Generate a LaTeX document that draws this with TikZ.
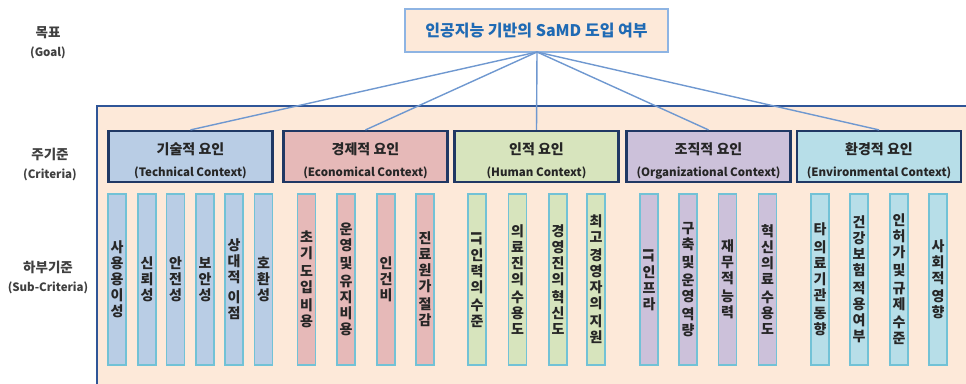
\documentclass[tikz,border=0pt]{standalone}
\usepackage{fontspec}
\setmainfont{Noto Sans CJK KR}
\definecolor{peach}{HTML}{FDE9D9}
\definecolor{goalline}{HTML}{8EB4E3}
\definecolor{goaltext}{HTML}{1F6AB4}
\definecolor{frameblue}{HTML}{2F5597}
\definecolor{critborder}{HTML}{203864}
\definecolor{conn}{HTML}{6F98D0}
\definecolor{barborder}{HTML}{72C2D6}
\definecolor{techfill}{HTML}{B9CDE5}
\definecolor{econfill}{HTML}{E6B9B8}
\definecolor{humanfill}{HTML}{D7E4BD}
\definecolor{orgfill}{HTML}{CCC1DA}
\definecolor{envfill}{HTML}{B7DEE8}
\definecolor{labeltext}{HTML}{404040}
\definecolor{boxtext}{HTML}{262626}
\newcommand{\rit}{\rotatebox{-90}{IT}}
\newcommand{\eng}[1]{{\fontsize{11.5}{13}\selectfont #1}}
\begin{document}
\begin{tikzpicture}[x=1pt,y=-1pt,
  goalbox/.style={draw=goalline,line width=1.6pt,fill=peach,minimum width=263pt,minimum height=43pt,inner sep=0pt,
    text=goaltext,font=\bfseries\fontsize{16}{18}\selectfont},
  critbox/.style={draw=critborder,line width=2.2pt,minimum width=164pt,minimum height=51pt,inner sep=0pt},
  crittext/.style={align=center,text=boxtext,font=\bfseries\fontsize{14}{22}\selectfont,yshift=-4pt},
  subbar/.style={draw=barborder,line width=1.4pt,minimum width=18pt,minimum height=171pt,inner sep=0pt,
    align=center,text=boxtext,font=\bfseries\fontsize{14}{16}\selectfont},
  sidelabel/.style={align=center,text=labeltext,font=\bfseries\fontsize{13.5}{21}\selectfont},
  connector/.style={draw=conn,line width=1.4pt}]
\clip (0,0) rectangle (966,383);
\fill[white] (0,0) rectangle (966,383);
% frame
\draw[frameblue,line width=2pt,fill=peach] (97,106) rectangle (990,420);
% side labels
\node[sidelabel] (lgoal) at (48,43) {목표\\[-2pt]\eng{(Goal)}};
\node[sidelabel] (lcrit) at (50,164) {주기준\\[-2pt]\eng{(Criteria)}};
\node[sidelabel] (lsub) at (48,277) {하부기준\\[-2pt]\eng{(Sub-Criteria)}};
% goal
\node[goalbox] (goal) at (536.5,30.5) {인공지능 기반의 SaMD 도입 여부};
\coordinate (hub) at (537,52);
% criteria
\node[critbox,fill=techfill,label={[crittext]center:기술적 요인\\\eng{(Technical Context)}}] (tech) at (190.5,156.5) {};
\node[critbox,fill=econfill,label={[crittext]center:경제적 요인\\\eng{(Economical Context)}}] (econ) at (365.5,156.5) {};
\node[critbox,fill=humanfill,label={[crittext]center:인적 요인\\\eng{(Human Context)}}] (human) at (536.5,156.5) {};
\node[critbox,fill=orgfill,label={[crittext]center:조직적 요인\\\eng{(Organizational Context)}}] (org) at (708.5,156.5) {};
\node[critbox,fill=envfill,label={[crittext]center:환경적 요인\\\eng{(Environmental Context)}}] (env) at (879,156.5) {};
\foreach \n in {tech,econ,human,org,env}{\draw[connector] (hub) -- (\n.north);}
% technical
\node[subbar,fill=techfill] (t1) at (117,279.5) {사\\용\\용\\이\\성};
\node[subbar,fill=techfill] (t2) at (147,279.5) {신\\뢰\\성};
\node[subbar,fill=techfill] (t3) at (175.5,279.5) {안\\전\\성};
\node[subbar,fill=techfill] (t4) at (205,279.5) {보\\안\\성};
\node[subbar,fill=techfill] (t5) at (234,279.5) {상\\대\\적\\[4pt]이\\점};
\node[subbar,fill=techfill] (t6) at (263.5,279.5) {호\\환\\성};
% economical
\node[subbar,fill=econfill] (e1) at (306.5,279.5) {초\\기\\[2pt]도\\입\\[2pt]비\\용};
\node[subbar,fill=econfill] (e2) at (346,279.5) {운\\영\\[2pt]및\\[2pt]유\\지\\비\\용};
\node[subbar,fill=econfill] (e3) at (386,279.5) {인\\건\\비};
\node[subbar,fill=econfill] (e4) at (425,279.5) {진\\료\\원\\가\\[2pt]절\\감};
% human
\node[subbar,fill=humanfill] (h1) at (477,279.5) {\rit\\[2pt]인\\력\\의\\[2pt]수\\준};
\node[subbar,fill=humanfill] (h2) at (517.5,279.5) {의\\료\\진\\의\\[2pt]수\\용\\도};
\node[subbar,fill=humanfill] (h3) at (558,279.5) {경\\영\\진\\의\\[2pt]혁\\신\\도};
\node[subbar,fill=humanfill] (h4) at (596,279.5) {최\\고\\[2pt]경\\영\\자\\의\\[2pt]지\\원};
% organizational
\node[subbar,fill=orgfill] (o1) at (649,279.5) {\rit\\[2pt]인\\프\\라};
\node[subbar,fill=orgfill] (o2) at (688,279.5) {구\\축\\[2pt]및\\[2pt]운\\영\\[2pt]역\\량};
\node[subbar,fill=orgfill] (o3) at (727.5,279.5) {재\\무\\적\\[2pt]능\\력};
\node[subbar,fill=orgfill] (o4) at (767.5,279.5) {혁\\신\\의\\료\\[2pt]수\\용\\도};
% environmental
\node[subbar,fill=envfill] (v1) at (820,279.5) {타\\[2pt]의\\료\\기\\관\\[2pt]동\\향};
\node[subbar,fill=envfill] (v2) at (859,279.5) {건\\강\\보\\험\\[2pt]적\\용\\여\\부};
\node[subbar,fill=envfill] (v3) at (899,279.5) {인\\허\\가\\[2pt]및\\[2pt]규\\제\\[2pt]수\\준};
\node[subbar,fill=envfill] (v4) at (938,279.5) {사\\회\\적\\[2pt]영\\향};
\end{tikzpicture}
\end{document}
